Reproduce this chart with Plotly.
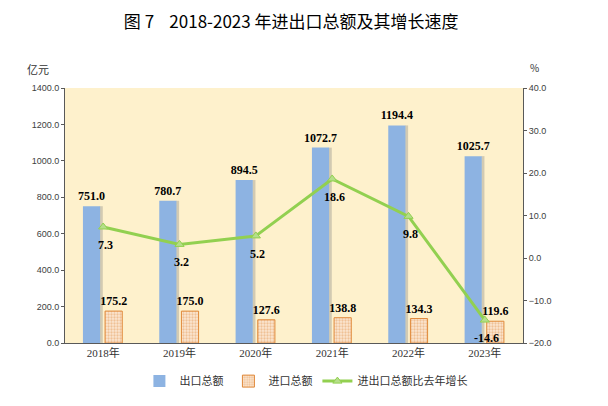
import plotly.graph_objects as go

years = ['2018年', '2019年', '2020年', '2021年', '2022年', '2023年']
exports = [751.0, 780.7, 894.5, 1072.7, 1194.4, 1025.7]
imports = [175.2, 175.0, 127.6, 138.8, 134.3, 119.6]
growth = [7.3, 3.2, 5.2, 18.6, 9.8, -14.6]

label_font = dict(family='Liberation Serif', size=12, color='black')

fig = go.Figure()

# soft shadow on the right side of the export bars
fig.add_trace(go.Bar(
    x=years, y=exports, showlegend=False, hoverinfo='skip',
    offset=-0.045, width=0.04,
    marker=dict(color='rgba(130,130,130,0.35)', line=dict(width=0)),
))

fig.add_trace(go.Bar(
    x=years, y=exports, name='出口总额',
    offset=-0.265, width=0.225,
    marker=dict(color='#8DB3E2', line=dict(width=0)),
    text=[f'<b>{v:.1f}</b>' for v in exports],
    textposition='outside', textfont=label_font, constraintext='none',
    cliponaxis=False,
))

fig.add_trace(go.Bar(
    x=years, y=imports, name='进口总额',
    offset=0.025, width=0.225,
    marker=dict(color='#FBE3CB',
                line=dict(color='#E0893A', width=1),
                pattern=dict(shape='.', fgcolor='#E39B5A', bgcolor='#FBE6D2',
                             size=3, solidity=0.45)),
    text=[f'<b>{v:.1f}</b>' for v in imports],
    textposition='outside', textfont=label_font, constraintext='none',
    cliponaxis=False,
))

fig.add_trace(go.Scatter(
    x=years, y=growth, name='进出口总额比去年增长', yaxis='y2',
    mode='lines+markers',
    line=dict(color='#92D050', width=3),
    marker=dict(symbol='triangle-up', size=8, color='#B5DE8A',
                line=dict(color='#92D050', width=1)),
    cliponaxis=False,
))

growth_labels = [
    dict(x=yr, y=g, xref='x', yref='y2', text=f'<b>{g:.1f}</b>',
         showarrow=False, yshift=-18, xshift=2, font=label_font)
    for yr, g in zip(years, growth)
]

fig.update_layout(
    width=600, height=398,
    margin=dict(l=57, r=85, t=80, b=62),
    paper_bgcolor='white',
    plot_bgcolor='#FEF1CC',
    barmode='overlay',
    title=dict(text='图 7&nbsp;&nbsp;&nbsp;&nbsp;2018-2023 年进出口总额及其增长速度',
               x=0.472, xanchor='center', y=0.964, yanchor='middle',
               font=dict(family='Noto Sans CJK SC', size=17, color='black')),
    font=dict(family='Noto Sans CJK SC', size=10, color='#333333'),
    xaxis=dict(showgrid=False, showline=True, linecolor='#595959', linewidth=1,
               ticks='', tickfont=dict(family='Liberation Serif, Noto Sans CJK SC',
                                       size=11, color='#333333')),
    yaxis=dict(range=[0, 1400], dtick=200, tickformat='.1f', showgrid=False,
               zeroline=False, showline=True, linecolor='#595959', linewidth=1,
               ticks='outside', ticklen=3, tickcolor='#595959',
               tickfont=dict(family='Liberation Sans', size=9, color='#404040')),
    yaxis2=dict(range=[-20, 40], dtick=10, tickformat='.1f', overlaying='y',
                side='right', showgrid=False, zeroline=False, showline=True,
                linecolor='#595959', linewidth=1, ticks='outside', ticklen=3,
                tickcolor='#595959',
                tickfont=dict(family='Liberation Sans', size=9, color='#404040')),
    legend=dict(orientation='h', x=0.526, xanchor='center', y=-0.145,
                yanchor='middle', font=dict(size=11, color='#333333'),
                bgcolor='rgba(0,0,0,0)', traceorder='normal'),
    annotations=growth_labels + [
        dict(text='亿元', x=-0.059, y=1.074, xref='paper', yref='paper',
             xanchor='center', yanchor='middle',
             showarrow=False, font=dict(size=11, color='#333333')),
        dict(text='%', x=1.026, y=1.082, xref='paper', yref='paper',
             xanchor='center', yanchor='middle',
             showarrow=False, font=dict(size=10, color='#333333')),
    ],
)

fig.write_html('out.html')
